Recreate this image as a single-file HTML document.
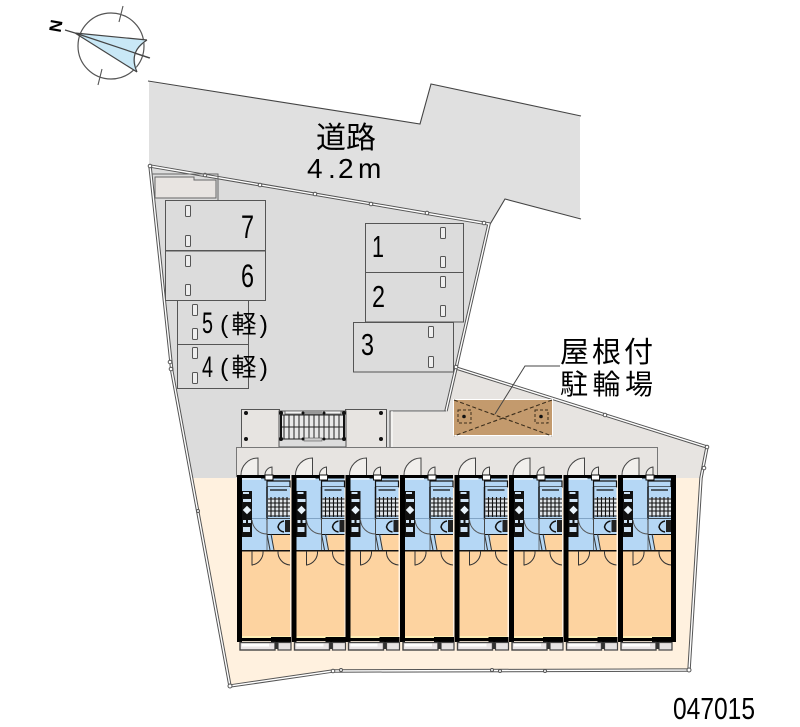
<!DOCTYPE html>
<html><head><meta charset="utf-8"><style>
html,body{margin:0;padding:0;background:#fff}
svg{display:block;filter:blur(.35px)}
text{font-family:"Liberation Sans","Noto Sans CJK JP",sans-serif;fill:#000}
</style></head><body>
<svg width="800" height="727" viewBox="0 0 800 727" xmlns="http://www.w3.org/2000/svg">
<defs>
<g id="u">
<rect x="5" y="478" width="48" height="72" fill="#b5d7f5"/>
<rect x="36" y="534" width="17" height="16" fill="#fdd3a0"/>
<rect x="5" y="551" width="48" height="87" fill="#fdd3a0"/>
<rect x="5" y="636" width="48" height="2" fill="#fdeeb5"/>
<!-- kitchen -->
<rect x="5" y="491" width="10" height="46" fill="#111"/>
<rect x="6" y="492" width="6" height="2" fill="#cfe3f5"/><rect x="6" y="499" width="8" height="3" fill="#cfe3f5"/>
<rect x="7" y="507" width="6" height="6" fill="#e8f2fa" transform="rotate(45 10 510)"/>
<rect x="6" y="520" width="3" height="3" fill="#cfe3f5"/><rect x="11" y="520" width="3" height="3" fill="#cfe3f5"/>
<rect x="6" y="527" width="7" height="5" fill="#cfe3f5"/>
<!-- bath -->
<rect x="30" y="481" width="23" height="6" fill="#b5d7f5" stroke="#111" stroke-width="1.200"/>
<rect x="30" y="487" width="23" height="32" fill="#b5d7f5"/>
<path d="M30 487V519H53" stroke="#111" stroke-width="1.500" fill="none"/>
<path d="M33 490h17" stroke="#111" stroke-width="1.200"/>
<rect x="31" y="498" width="22" height="18" fill="#e2e6ea"/>
<path d="M31 499h22M31 503h22M31 507h22M31 511h22M31 516h22M34 497v20M38 497v20M42 497v20M46 497v20M50 497v20" stroke="#111" stroke-width="1.100" fill="none"/>
<rect x="30" y="519" width="23" height="15" fill="#b5d7f5"/>
<path d="M30 518.500v16h23" stroke="#111" stroke-width="1" fill="none"/>
<path d="M47 521a7 7 0 0 0-6 6a7 7 0 0 0 6 5" stroke="#111" stroke-width="1.500" fill="none"/>
<rect x="48" y="520" width="5" height="12" fill="#222"/>
<path d="M15 520a15 15 0 0 0 15 14" stroke="#555" fill="none"/>
<path d="M15 518.500h15" stroke="#6a8fb0" stroke-width=".7"/>
<path d="M30 534l3 16M34 534l3 16" stroke="#333" fill="none"/>
<path d="M30 518v32" stroke="#555" stroke-width=".8"/>
<!-- walls -->
<rect x="0" y="475" width="5" height="167" fill="#000"/>
<rect x="0" y="475" width="53" height="3.500" fill="#000"/>
<rect x="5" y="478" width="19" height="2" fill="#dcecf9"/>
<rect x="0" y="638" width="34" height="3" fill="#000"/>
<rect x="34" y="637" width="20" height="5" fill="#000"/>
<rect x="5" y="550" width="48" height="1.500" fill="#111"/>
<!-- interior doors -->
<path d="M15 551v14h1M15 565a13 13 0 0 0 11-14" stroke="#333" fill="none"/>
<path d="M53 565a13 13 0 0 1-12-14" stroke="#333" fill="none"/>
<!-- top doors -->
<path d="M21 475v-17a17 17 0 0 0-17 17" fill="#f1efec" stroke="#444" stroke-width="1"/>
<path d="M35 479v-12a8 8 0 0 0-7 9" fill="#f1efec" stroke="#444" stroke-width="1"/>
<rect x="28" y="475" width="8" height="5" fill="#fff" stroke="#111" stroke-width="1"/>
<!-- balcony -->
<rect x="3" y="642.500" width="35" height="7.500" fill="#e9e5e6" stroke="#444" stroke-width="1.400"/>
<rect x="5" y="643.500" width="27" height="3" fill="#fff"/>
<rect x="41" y="642.500" width="13" height="7.500" fill="#e6e3e3" stroke="#444" stroke-width="1.200"/>
<rect x="38" y="642" width="3" height="7" fill="#333"/>
</g>
<g id="stop"><rect x="-2.500" y="-5.500" width="5" height="11" rx="1" fill="#eee" stroke="#555" stroke-width="1"/></g>
</defs>

<!-- road -->
<polygon points="149,82 420,124 431,84 580,116 580,218 505,199 489,226 149,167" fill="#e0e0e0"/>
<path d="M148,81L420,124L431,84L581,116M581,219L505,199L489,226" fill="none" stroke="#444" stroke-width="1.100"/>

<!-- cream -->
<polygon points="190,475 703,475 689,670 333,671 230,686" fill="#fff1df"/>
<!-- parking grey -->
<polygon points="150,166 489,224 456,368 446,411 390,411 390,447 236,447 236,478 192,478 172,372" fill="#dcdcdc"/>
<!-- warm grey -->
<polygon points="456,369 707,447 702,478 236,478 236,447 390,447 390,412 446,412" fill="#e7e4e1"/>

<!-- site outline double -->
<g fill="none" stroke-linejoin="miter">
<path d="M150,166L489,224L456,368L446,411M456,368L707,447L701,478L689,670L333,671L230,686L172,372L150,166" stroke="#555" stroke-width="3.400"/>
<path d="M150,166L489,224L456,368L446,411M456,368L707,447L701,478L689,670L333,671L230,686L172,372L150,166" stroke="#fff" stroke-width="1.400"/>
<path d="M446,411H390V447" stroke="#555" stroke-width="1"/>
<path d="M392,411V447" stroke="#fff" stroke-width="1"/>
</g>
<g fill="#fff" stroke="#555" stroke-width="1">
<circle cx="150" cy="166" r="1.800"/><circle cx="205" cy="175" r="1.800"/><circle cx="260" cy="185" r="1.800"/><circle cx="315" cy="194" r="1.800"/><circle cx="371" cy="204" r="1.800"/><circle cx="427" cy="213" r="1.800"/><circle cx="484" cy="223" r="1.800"/><circle cx="456" cy="367" r="1.800"/><circle cx="605" cy="415" r="1.800"/><circle cx="707" cy="447" r="1.800"/><circle cx="704" cy="468" r="1.800"/><circle cx="689" cy="670" r="2"/><circle cx="230" cy="686" r="2"/><circle cx="333" cy="671" r="1.800"/><circle cx="341" cy="670" r="1.500"/><circle cx="492" cy="670" r="1.500"/><circle cx="500" cy="671" r="1.500"/><circle cx="545" cy="671" r="1.500"/><circle cx="170" cy="362" r="1.800"/><circle cx="171" cy="369" r="1.800"/><circle cx="198" cy="511" r="1.500"/>
</g>

<!-- small rect top-left -->
<path d="M155,177H194V180H216V198H155Z" fill="#e8e4e1" stroke="#666" stroke-width="1"/>
<path d="M152,174H218V200" fill="none" stroke="#666" stroke-width="1"/>

<!-- parking spaces -->
<g fill="#dcdcdc" stroke="#555" stroke-width="1">
<rect x="165.500" y="200.500" width="100" height="50"/>
<rect x="165.500" y="251" width="100" height="49.500"/>
<rect x="177.500" y="300.500" width="71" height="44"/>
<rect x="177.500" y="344.500" width="71" height="44"/>
<rect x="365.500" y="223.500" width="98" height="49"/>
<rect x="365.500" y="272.500" width="98" height="49.500"/>
<rect x="353.500" y="322.500" width="100" height="49.500"/>
</g>
<g>
<use href="#stop" x="188" y="211"/><use href="#stop" x="188" y="241"/>
<use href="#stop" x="188" y="261"/><use href="#stop" x="188" y="290"/>
<use href="#stop" x="195" y="310"/><use href="#stop" x="195" y="334"/>
<use href="#stop" x="195" y="353"/><use href="#stop" x="195" y="378"/>
<use href="#stop" x="443" y="233"/><use href="#stop" x="443" y="262"/>
<use href="#stop" x="443" y="282"/><use href="#stop" x="443" y="311"/>
<use href="#stop" x="431" y="332"/><use href="#stop" x="431" y="362"/>
</g>

<!-- stair block -->
<g stroke="#555" stroke-width="1">
<rect x="241.500" y="409.500" width="38" height="38" fill="#e7e4e1"/>
<rect x="345.500" y="409.500" width="41" height="38" fill="#e7e4e1"/>
<rect x="279" y="411" width="67" height="36" fill="#dcdcdc"/>
</g>
<rect x="280" y="415" width="65" height="24" fill="#e8e8e8"/>
<path d="M281 415h63M281 427h63M281 439h63M284 415v24M289 415v24M294 415v24M299 415v24M304 415v24M309 415v24M314 415v24M319 415v24M324 415v24M329 415v24M334 415v24M339 415v24" stroke="#222" stroke-width="1" fill="none"/>
<path d="M281 415v24M344 415v24" stroke="#111" stroke-width="2"/>
<rect x="285" y="411" width="56" height="3" fill="#f3f3f3" stroke="#555" stroke-width=".8"/>
<rect x="304" y="411" width="18" height="3" fill="#999"/>
<rect x="304" y="438" width="18" height="3" fill="#ccc" stroke="#555" stroke-width=".6"/>
<g fill="#111">
<circle cx="246" cy="413" r="2"/><circle cx="246" cy="439" r="2"/><circle cx="381" cy="413" r="2"/><circle cx="381" cy="439" r="2"/>
<circle cx="281" cy="413" r="2"/><circle cx="344" cy="413" r="2"/><circle cx="281" cy="439" r="2"/><circle cx="344" cy="439" r="2"/><circle cx="303" cy="413" r="1.500"/><circle cx="324" cy="413" r="1.500"/><circle cx="303" cy="439" r="1.500"/><circle cx="324" cy="439" r="1.500"/>
</g>

<!-- roof strip over building -->
<path d="M236.500,477V447.500H657.500V477" fill="none" stroke="#777" stroke-width="1"/>

<!-- bike shelter -->
<rect x="453.500" y="399.500" width="99" height="36" fill="#c39a6d" stroke="#fff" stroke-width="1"/>
<path d="M454 400L552 436M552 400L454 436" stroke="#3c2e1c" stroke-width="1.100" stroke-dasharray="4 2.500" fill="none"/>
<rect x="458" y="410" width="13" height="13" fill="none" stroke="#3c2e1c" stroke-dasharray="3 2"/>
<rect x="535" y="410" width="13" height="13" fill="none" stroke="#3c2e1c" stroke-dasharray="3 2"/>
<circle cx="464" cy="416.500" r="1.800" fill="#111"/><circle cx="541" cy="416.500" r="1.800" fill="#111"/>
<path d="M560 366H525L495 414" fill="none" stroke="#444" stroke-width="1"/>

<!-- units -->
<use href="#u" x="237" y="0"/>
<use href="#u" x="291.500" y="0"/>
<use href="#u" x="345.500" y="0"/>
<use href="#u" x="400" y="0"/>
<use href="#u" x="454.500" y="0"/>
<use href="#u" x="509" y="0"/>
<use href="#u" x="563.500" y="0"/>
<use href="#u" x="618" y="0"/>
<rect x="671" y="475" width="5" height="167" fill="#000"/>

<!-- compass -->
<circle cx="111" cy="46" r="33" fill="none" stroke="#555" stroke-width="1.200"/>
<path d="M123 6l-4 16M102 69l-4 16M134 53l15 5" stroke="#555" stroke-width="1.100" fill="none"/>
<polygon points="75,33 147,40 134,53 137,72" fill="#c9e8f6"/>
<path d="M65,30L75,33L147,40M75,33L137,72M75,33L150,58M147,40Q128,52 137,72" fill="none" stroke="#444" stroke-width="1.200"/>
<text transform="translate(56,26) rotate(100)" font-size="17" font-weight="bold" text-anchor="middle" y="6">N</text>

<!-- labels -->
<text x="316" y="148" font-size="30" textLength="60" lengthAdjust="spacingAndGlyphs">道路</text>
<text x="307 328 338 358" y="178" font-size="28">4.2m</text>
<text x="241" y="238" font-size="32" textLength="13" lengthAdjust="spacingAndGlyphs">7</text>
<text x="241" y="287" font-size="32" textLength="13" lengthAdjust="spacingAndGlyphs">6</text>
<text x="202" y="333" font-size="30" textLength="11" lengthAdjust="spacingAndGlyphs">5</text>
<text x="202" y="377" font-size="30" textLength="11" lengthAdjust="spacingAndGlyphs">4</text>
<text x="220" y="333" font-size="25" textLength="48" lengthAdjust="spacing">(軽)</text>
<text x="220" y="376" font-size="25" textLength="48" lengthAdjust="spacing">(軽)</text>
<text x="372" y="257" font-size="31" textLength="12" lengthAdjust="spacingAndGlyphs">1</text>
<text x="372" y="307" font-size="31" textLength="13" lengthAdjust="spacingAndGlyphs">2</text>
<text x="361" y="355" font-size="31" textLength="13" lengthAdjust="spacingAndGlyphs">3</text>
<text x="560" y="362" font-size="29" textLength="93" lengthAdjust="spacing">屋根付</text>
<text x="560" y="394" font-size="28" textLength="93" lengthAdjust="spacing">駐輪場</text>
<text x="673" y="719" font-size="31" textLength="82" lengthAdjust="spacingAndGlyphs">047015</text>
</svg>
</body></html>
